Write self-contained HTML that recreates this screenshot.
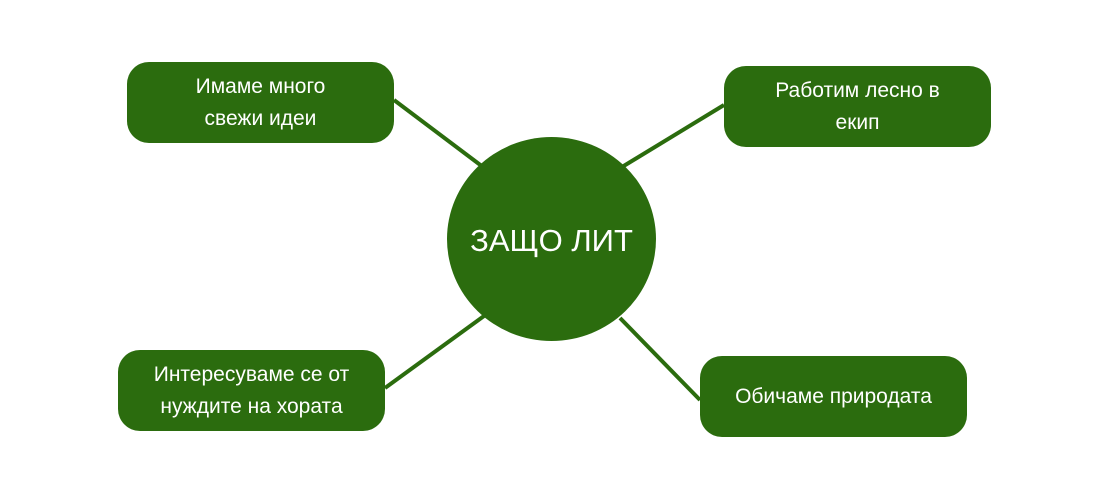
<!DOCTYPE html>
<html><head><meta charset="utf-8"><style>
body{margin:0;background:#fff;width:1096px;height:492px;overflow:hidden;position:relative;font-family:"Liberation Sans","DejaVu Sans",sans-serif}
.b{position:absolute;width:267px;height:81px;background:#2b6c0e;border-radius:22px;color:#fff;font-size:21px;line-height:32px;display:flex;align-items:center;justify-content:center;text-align:center}
.c{position:absolute;left:447px;top:137px;width:209px;height:204px;border-radius:50%;background:#2b6c0e;color:#fff;font-size:31px;display:flex;align-items:center;justify-content:center;padding-top:4px;box-sizing:border-box}
svg{position:absolute;left:0;top:0}
</style></head><body>
<svg width="1096" height="492"><g stroke="#2b6c0e" stroke-width="4">
<line x1="394" y1="100" x2="483" y2="167"/><line x1="724" y1="105" x2="622" y2="167"/>
<line x1="385" y1="388" x2="484" y2="316"/><line x1="700" y1="400" x2="620" y2="318"/></g></svg>
<div class="b" style="left:127px;top:62px">Имаме много<br>свежи идеи</div>
<div class="b" style="left:724px;top:66px">Работим лесно в<br>екип</div>
<div class="b" style="left:118px;top:350px">Интересуваме се от<br>нуждите на хората</div>
<div class="b" style="left:700px;top:356px">Обичаме природата</div>
<div class="c">ЗАЩО ЛИТ</div>
</body></html>
